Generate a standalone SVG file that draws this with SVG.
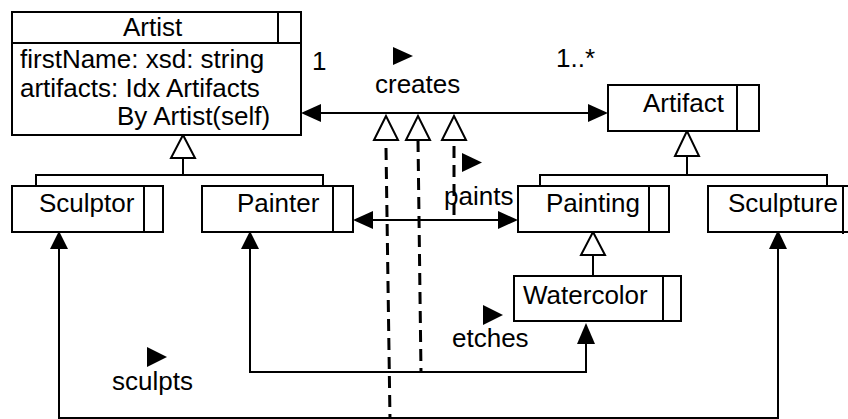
<svg xmlns="http://www.w3.org/2000/svg" width="848" height="419" viewBox="0 0 848 419">
  <style>
    .box { fill: #fff; stroke: #000; stroke-width: 2; }
    .ln { fill: none; stroke: #000; stroke-width: 2; }
    .dash { fill: none; stroke: #000; stroke-width: 3; stroke-dasharray: 12 7; }
    .gen { fill: #fff; stroke: #000; stroke-width: 2; stroke-linejoin: miter; }
    .fill { fill: #000; stroke: none; }
    text { font-family: "Liberation Sans", Arial, sans-serif; font-size: 26px; fill: #000; }
  </style>
  <rect width="848" height="419" fill="#fff"/>

  <!-- connectors -->
  <g id="connectors">
    <!-- generalization: Sculptor / Painter -> Artist -->
    <path class="ln" d="M183 158 V175 M36 192 V175 H323 V186"/>
    <polygon class="gen" points="183,135 171,158 195,158"/>

    <!-- generalization: Painting / Sculpture -> Artifact -->
    <path class="ln" d="M687 156 V175 M540 186 V175 H827 V186"/>
    <polygon class="gen" points="687,131 675,156 699,156"/>

    <!-- generalization: Watercolor -> Painting -->
    <path class="ln" d="M593 255 V276"/>
    <polygon class="gen" points="593,232 581,255 605,255"/>

    <!-- creates association -->
    <path class="ln" d="M320 113 H588"/>
    <polygon class="fill" points="301,113 321,104 321,122"/>
    <polygon class="fill" points="608,113 588,104 588,122"/>

    <!-- association classes dependency lines -->
    <path class="dash" d="M386 148 L390 419"/>
    <path class="dash" d="M418 140 L421 372"/>
    <path class="dash" d="M454 146 L454 220"/>
    <polygon class="gen" points="386,116 374,140 398,140"/>
    <polygon class="gen" points="418,116 406,140 430,140"/>
    <polygon class="gen" points="454,116 442,140 466,140"/>

    <!-- paints association -->
    <path class="ln" d="M372 220 H499"/>
    <polygon class="fill" points="353,220 373,211 373,229"/>
    <polygon class="fill" points="518,220 498,211 498,229"/>

    <!-- etches association -->
    <path class="ln" d="M250 248 V372 H586 V343"/>
    <polygon class="fill" points="250,231 241,249 259,249"/>
    <polygon class="fill" points="586,323 577,344 595,344"/>

    <!-- sculpts association -->
    <path class="ln" d="M59 248 V418 H778 V248"/>
    <polygon class="fill" points="59,231 50,249 68,249"/>
    <polygon class="fill" points="778,230 769,249 787,249"/>

    <!-- direction markers -->
    <polygon class="fill" points="393,47 413,56 393,65"/>
    <polygon class="fill" points="462,153 482,162.5 462,172"/>
    <polygon class="fill" points="483,305 503,315 483,325"/>
    <polygon class="fill" points="147,347 167,357 147,367"/>
  </g>

  <!-- association labels -->
  <text x="312" y="70">1</text>
  <text x="556" y="67">1..*</text>
  <text x="375" y="93">creates</text>
  <text x="444" y="205">paints</text>
  <text x="452" y="347">etches</text>
  <text x="112" y="390">sculpts</text>

  <g id="artist">
    <rect class="box" x="12" y="12" width="289" height="123"/>
    <path class="ln" d="M12 43 H301 M278 12 V43"/>
    <text x="123" y="36">Artist</text>
    <text x="20" y="68">firstName: xsd: string</text>
    <text x="20" y="97">artifacts: Idx Artifacts</text>
    <text x="117" y="125">By Artist(self)</text>
  </g>

  <g id="artifact">
    <rect class="box" x="608" y="85" width="151" height="46"/>
    <path class="ln" d="M737 85 V131"/>
    <text x="643" y="112">Artifact</text>
  </g>

  <g id="sculptor">
    <rect class="box" x="12" y="186" width="151" height="46"/>
    <path class="ln" d="M144 186 V232"/>
    <text x="39" y="212">Sculptor</text>
  </g>

  <g id="painter">
    <rect class="box" x="202" y="186" width="151" height="46"/>
    <path class="ln" d="M333 186 V232"/>
    <text x="237" y="212">Painter</text>
  </g>

  <g id="painting">
    <rect class="box" x="518" y="186" width="151" height="46"/>
    <path class="ln" d="M649 186 V232"/>
    <text x="546" y="212">Painting</text>
  </g>

  <g id="sculpture">
    <rect class="box" x="708" y="186" width="160" height="46"/>
    <path class="ln" d="M843 186 V234"/>
    <text x="728" y="212">Sculpture</text>
  </g>

  <g id="watercolor">
    <rect class="box" x="514" y="276" width="167" height="45"/>
    <path class="ln" d="M663 276 V321"/>
    <text x="523" y="304">Watercolor</text>
  </g>
</svg>
